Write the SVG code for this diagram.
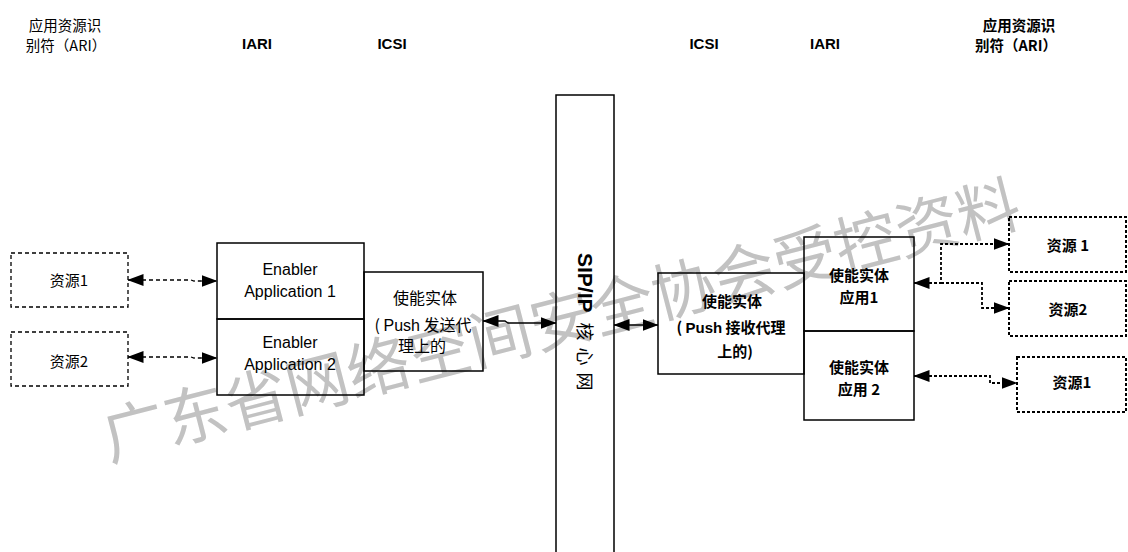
<svg xmlns="http://www.w3.org/2000/svg" width="1128" height="552" viewBox="0 0 1128 552">
<style>
.bg{fill:#ffffff}
.box{fill:none;stroke:#000;stroke-width:1.5}
.dbox{fill:none;stroke:#000;stroke-width:1.3;stroke-dasharray:4 3}
.rbox{fill:none;stroke:#000;stroke-width:2;stroke-dasharray:3 2}
.cn{font-family:"Noto Sans CJK SC","Liberation Sans",sans-serif;fill:#000}
.en{font-family:"Liberation Sans",Arial,sans-serif;fill:#000}
.b{font-weight:bold}
.c{text-anchor:middle}
.wm{font-family:"Noto Sans CJK SC",sans-serif;font-size:63px;fill:#c2c2c2;text-anchor:middle;dominant-baseline:central}
.dl{fill:none;stroke:#000;stroke-width:1.3;stroke-dasharray:4 3}
.rl{fill:none;stroke:#000;stroke-width:1.8;stroke-dasharray:3 2}
.sl{fill:none;stroke:#000;stroke-width:1.3}
</style>
<defs>
<marker id="ah" viewBox="0 0 16 12" refX="15.5" refY="6" markerWidth="16" markerHeight="12" orient="auto-start-reverse" markerUnits="userSpaceOnUse"><path d="M0,0 L16,6 L0,12 z" fill="#000"/></marker>
</defs>
<rect class="bg" x="0" y="0" width="1128" height="552"/>
<text class="wm" transform="rotate(-14.5 560 316)" x="560" y="316">广东省网络空间安全协会受控资料</text>

<g id="headers">
<text class="cn c" x="65" y="31" font-size="14.5">应用资源识</text>
<text class="cn c" x="66" y="51" font-size="14.5">别符（ARI）</text>
<text class="en b c" x="257" y="49" font-size="15">IARI</text>
<text class="en b c" x="392" y="49" font-size="15">ICSI</text>
<text class="en b c" x="704" y="49" font-size="15">ICSI</text>
<text class="en b c" x="825" y="49" font-size="15">IARI</text>
<text class="cn b c" x="1019" y="31" font-size="14.5">应用资源识</text>
<text class="cn b c" x="1016" y="51" font-size="14.5">别符（ARI）</text>
</g>

<g id="res-left-1">
<rect class="dbox" x="11" y="253" width="117" height="54"/>
<text class="cn c" x="69" y="286" font-size="15">资源1</text>
</g>
<g id="res-left-2">
<rect class="dbox" x="11" y="332" width="117" height="54"/>
<text class="cn c" x="69" y="367" font-size="15">资源2</text>
</g>

<g id="enabler-app-1">
<rect class="box" x="217" y="243" width="147" height="76"/>
<text class="en c" x="290" y="275" font-size="16">Enabler</text>
<text class="en c" x="290" y="297" font-size="16">Application 1</text>
</g>
<g id="enabler-app-2">
<rect class="box" x="217" y="319" width="147" height="76"/>
<text class="en c" x="290" y="348" font-size="16">Enabler</text>
<text class="en c" x="290" y="370" font-size="16">Application 2</text>
</g>

<g id="push-send">
<rect class="box" x="364" y="272" width="119" height="99"/>
<text class="cn c" x="425" y="304" font-size="16">使能实体</text>
<text class="cn c" x="423" y="331" font-size="16">( <tspan class="en">Push</tspan> 发送代</text>
<text class="cn c" x="422" y="352" font-size="16">理上的</text>
</g>

<g id="sip-core">
<path class="box" d="M556,560 L556,95 L614,95 L614,560"/>
<text class="en b" transform="translate(578 253) rotate(90)" font-size="21">SIP/IP<tspan class="cn" font-weight="normal" font-size="18" letter-spacing="7" dx="10">核心网</tspan></text>
</g>

<g id="push-recv">
<rect class="box" x="658" y="273" width="146" height="101"/>
<text class="cn b c" x="732" y="307" font-size="15">使能实体</text>
<text class="cn b c" x="731" y="333" font-size="15">( <tspan class="en">Push</tspan> 接收代理</text>
<text class="cn b c" x="735" y="357" font-size="15">上的)</text>
</g>

<g id="enabler-entity-app-1">
<rect class="box" x="804" y="237" width="110" height="94"/>
<text class="cn b c" x="859" y="281" font-size="15">使能实体</text>
<text class="cn b c" x="859" y="303" font-size="15">应用1</text>
</g>
<g id="enabler-entity-app-2">
<rect class="box" x="804" y="331" width="110" height="89"/>
<text class="cn b c" x="859" y="373" font-size="15">使能实体</text>
<text class="cn b c" x="859" y="395" font-size="15">应用 2</text>
</g>

<g id="res-right-1">
<rect class="rbox" x="1009" y="217" width="117" height="55"/>
<text class="cn b c" x="1068" y="251" font-size="15">资源 1</text>
</g>
<g id="res-right-2">
<rect class="rbox" x="1009" y="281" width="117" height="55"/>
<text class="cn b c" x="1068" y="315" font-size="15">资源2</text>
</g>
<g id="res-right-3">
<rect class="rbox" x="1017" y="357" width="109" height="55"/>
<text class="cn b c" x="1072" y="388" font-size="15">资源1</text>
</g>

<g id="connectors">
<polyline class="dl" points="128,280 191,280 194,281 217,281" marker-start="url(#ah)" marker-end="url(#ah)"/>
<polyline class="dl" points="128,357 191,357 194,358 217,358" marker-start="url(#ah)" marker-end="url(#ah)"/>
<polyline class="sl" points="483,321 505,321 508,323 556,323" marker-start="url(#ah)" marker-end="url(#ah)"/>
<polyline class="sl" points="614,325 658,325" marker-start="url(#ah)" marker-end="url(#ah)"/>
<polyline class="rl" points="914,283 941,283 941,244 1009,244" marker-start="url(#ah)" marker-end="url(#ah)"/>
<polyline class="rl" points="941,283 982,283 982,308 1009,308" marker-end="url(#ah)"/>
<polyline class="rl" points="914,376 990,376 990,383 1017,383" marker-start="url(#ah)" marker-end="url(#ah)"/>
</g>
</svg>
